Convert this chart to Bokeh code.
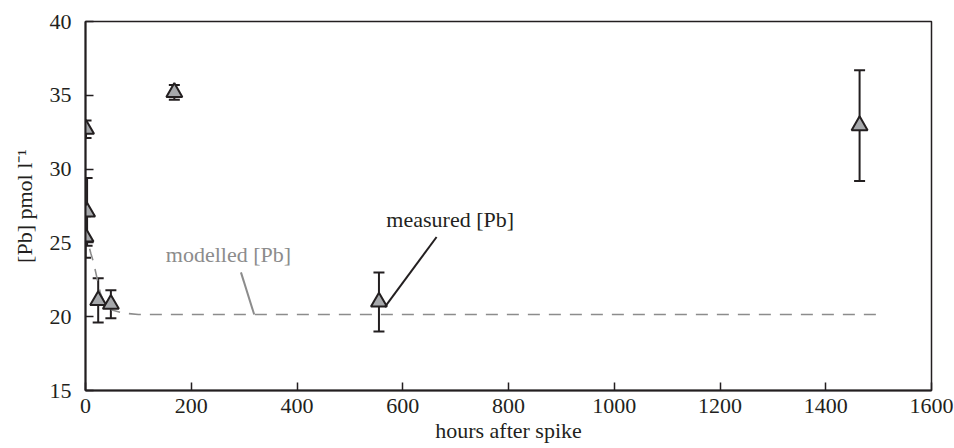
from bokeh.plotting import figure
from bokeh.models import ColumnDataSource, Whisker, TeeHead, FixedTicker
from bokeh.core.properties import value
from bokeh.embed import file_html
from bokeh.resources import INLINE

# measured data
hours = [0, 1, 3, 24, 48, 168, 555, 1464]
pb = [25.4, 32.7, 27.1, 21.1, 20.85, 35.2, 21.0, 32.95]
err = [1.4, 0.6, 2.3, 1.5, 0.95, 0.5, 2.0, 3.75]

# modelled curve
model_hours = [0, 5, 10, 15, 20, 28, 35, 50, 70, 100, 200, 500, 1000, 1500]
model_pb = [26.0, 25.0, 24.3, 23.7, 22.9, 21.6, 21.0, 20.45, 20.25, 20.15, 20.15, 20.15, 20.15, 20.15]

x_ticks = [0, 200, 400, 600, 800, 1000, 1200, 1400, 1600]
y_ticks = [15, 20, 25, 30, 35, 40]

FONT = "Liberation Serif"
FS = "22px"
INK = "#231f20"
GREY = "#8c8c8c"

p = figure(width=954, height=448, x_range=(0, 1600), y_range=(15, 40),
           output_backend="svg", toolbar_location=None)
p.min_border_left = 85
p.min_border_right = 23
p.min_border_top = 21
p.min_border_bottom = 58
p.grid.visible = False
p.outline_line_color = INK
p.outline_line_width = 1.5
p.background_fill_color = "white"
p.border_fill_color = "white"

for ax in (p.xaxis[0], p.yaxis[0]):
    ax.axis_line_color = INK
    ax.axis_line_width = 2
    ax.major_tick_line_color = INK
    ax.major_tick_line_width = 1.5
    ax.major_tick_in = 8
    ax.major_tick_out = 0
    ax.minor_tick_line_color = None
    ax.major_label_text_font = FONT
    ax.major_label_text_font_size = FS
    ax.major_label_text_color = INK
    ax.axis_label_text_font = FONT
    ax.axis_label_text_font_size = FS
    ax.axis_label_text_font_style = "normal"
    ax.axis_label_text_color = INK

p.xaxis.ticker = FixedTicker(ticks=x_ticks)
p.yaxis.ticker = FixedTicker(ticks=y_ticks)
p.xaxis.axis_label = "hours after spike"
p.yaxis.axis_label = "[Pb] pmol l\u207b\u00b9"
p.xaxis.major_label_standoff = 8
p.xaxis.axis_label_standoff = 2
p.yaxis.major_label_standoff = 14
p.yaxis.axis_label_standoff = 10

# modelled line
p.line(model_hours, model_pb, line_color=GREY, line_width=1.6, line_dash="12 9")

# error bars
src = ColumnDataSource(dict(x=hours, y=pb,
                            upper=[v + e for v, e in zip(pb, err)],
                            lower=[v - e for v, e in zip(pb, err)]))
w = Whisker(base="x", upper="upper", lower="lower", source=src,
            line_color=INK, line_width=2,
            upper_head=TeeHead(size=11, line_color=INK, line_width=2),
            lower_head=TeeHead(size=11, line_color=INK, line_width=2))
p.add_layout(w)

p.scatter("x", "y", source=src, marker="triangle", size=16,
          fill_color="#a6a8ab", line_color=INK, line_width=2)

# annotations
p.segment(x0=[664], y0=[25.4], x1=[566], y1=[20.65], line_color=INK, line_width=2)
p.segment(x0=[294], y0=[23.0], x1=[319], y1=[20.15], line_color=GREY, line_width=2)
p.text(x=[569], y=[26.6], text=["measured [Pb]"], text_font=value(FONT),
       text_font_size=FS, text_color=INK, text_baseline="middle", text_align="left")
p.text(x=[152], y=[24.2], text=["modelled [Pb]"], text_font=value(FONT),
       text_font_size=FS, text_color=GREY, text_baseline="middle", text_align="left")

open("out.html", "w").write(file_html(p, INLINE))
